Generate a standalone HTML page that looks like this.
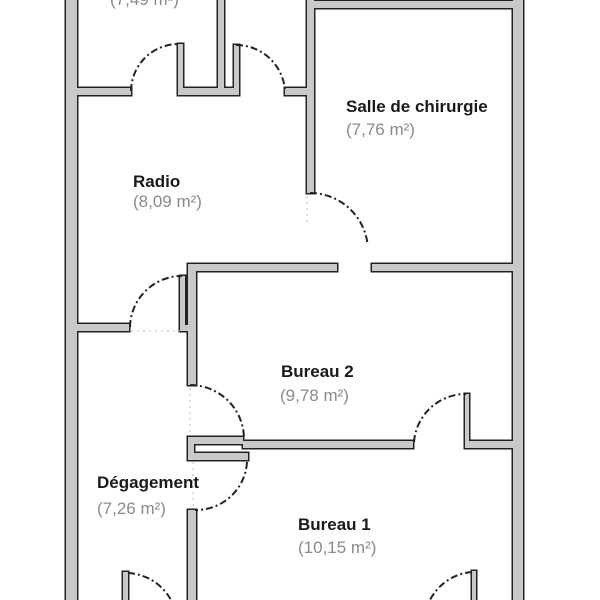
<!DOCTYPE html>
<html><head><meta charset="utf-8"><style>
html,body{margin:0;padding:0;background:#fff;}
svg{display:block;}
.b{font-family:"Liberation Sans",sans-serif;font-weight:bold;font-size:17px;fill:#1a1a1a;}
.g{font-family:"Liberation Sans",sans-serif;font-size:17px;fill:#8a8a8a;}
</style></head><body>
<svg width="600" height="600" viewBox="0 0 600 600" xmlns="http://www.w3.org/2000/svg">
<rect width="600" height="600" fill="#fff"/>
<defs>
<g id="walls">
  <rect x="66" y="-5" width="11" height="610"/>
  <rect x="513" y="-5" width="10" height="610"/>
  <rect x="218" y="-5" width="6" height="100"/>
  <rect x="77" y="88" width="54" height="7"/>
  <rect x="178" y="88" width="61" height="7"/>
  <rect x="178" y="44" width="5" height="51"/>
  <rect x="234" y="45" width="5" height="50"/>
  <rect x="285" y="88" width="25" height="7"/>
  <rect x="307" y="-5" width="7" height="198"/>
  <rect x="307" y="1" width="210" height="7"/>
  <rect x="188" y="264" width="149" height="7"/>
  <rect x="372" y="264" width="145" height="7"/>
  <rect x="188" y="264" width="8" height="121"/>
  <rect x="180" y="276" width="5" height="55"/>
  <rect x="180" y="325" width="8" height="6"/>
  <rect x="77" y="324" width="52" height="7"/>
  <rect x="188" y="437" width="55" height="7"/>
  <rect x="243" y="441" width="170" height="7"/>
  <rect x="465" y="441" width="50" height="7"/>
  <rect x="465" y="394" width="4" height="54"/>
  <rect x="188" y="453" width="60" height="7"/>
  <rect x="188" y="437" width="6" height="23"/>
  <rect x="188" y="510" width="8" height="95"/>
  <rect x="123" y="572" width="5" height="35"/>
  <rect x="472" y="571" width="4" height="35"/>
</g>
</defs>
<use href="#walls" fill="#222" stroke="#222" stroke-width="3"/>
<use href="#walls" fill="#c9c9c9"/>
<g fill="none" stroke="#222" stroke-width="2" stroke-dasharray="7 3 2 3">
  <path d="M131,91 A47.5 47.5 0 0 1 179,44"/>
  <path d="M236,45 A49 49 0 0 1 285,91"/>
  <path d="M310,193 A58 58 0 0 1 367.4,243"/>
  <path d="M130,327 A52 52 0 0 1 182,276"/>
  <path d="M190,385 A54 54 0 0 1 244,438"/>
  <path d="M414,442 A52 52 0 0 1 466,394"/>
  <path d="M247,462 A51 51 0 0 1 195,510"/>
  <path d="M128,573 A52 52 0 0 1 171,600"/>
  <path d="M472,572 A52 52 0 0 0 430,600"/>
</g>
<g fill="none" stroke="#bbb" stroke-width="1" stroke-dasharray="2 4">
  <path d="M307,196 V224"/>
  <path d="M131,331 H180"/>
  <path d="M190,388 V436"/>
  <path d="M193,462 V508"/>
</g>
<text class="g" x="110" y="5">(7,49 m²)</text>
<text class="b" x="346" y="112">Salle de chirurgie</text>
<text class="g" x="346" y="135">(7,76 m²)</text>
<text class="b" x="133" y="187">Radio</text>
<text class="g" x="133" y="207">(8,09 m²)</text>
<text class="b" x="281" y="377">Bureau 2</text>
<text class="g" x="280" y="401">(9,78 m²)</text>
<text class="b" x="97" y="488">Dégagement</text>
<text class="g" x="97" y="514">(7,26 m²)</text>
<text class="b" x="298" y="530">Bureau 1</text>
<text class="g" x="298" y="553">(10,15 m²)</text>
</svg>
</body></html>
